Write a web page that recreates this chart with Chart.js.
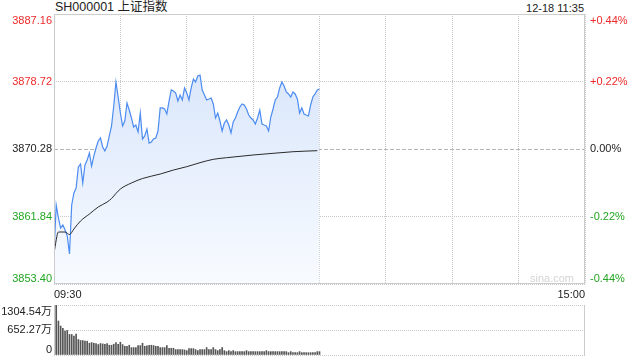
<!DOCTYPE html>
<html>
<head>
<meta charset="utf-8">
<script src="https://cdn.jsdelivr.net/npm/chart.js@4/dist/chart.umd.min.js"></script>
<style>
  html, body { margin: 0; padding: 0; background: #fff; }
  body { width: 640px; height: 360px; position: relative; overflow: hidden;
         font-family: Arial, "Liberation Sans", "Noto Sans CJK SC", sans-serif; }
  #title { position: absolute; left: 55px; top: 0px; font-size: 12.5px; color: #222; line-height: 15px; }
  #stamp { position: absolute; right: 56px; top: 1px; font-size: 11px; color: #222; line-height: 14px; }
  #mainBox { position: absolute; left: 0; top: 0; width: 640px; height: 298px; }
  #volBox { position: absolute; left: 0; top: 298px; width: 640px; height: 62px; }
</style>
</head>
<body>
<div id="title">SH000001 上证指数</div>
<div id="stamp">12-18 11:35</div>
<div id="mainBox"><canvas id="mainChart" width="640" height="298"></canvas></div>
<div id="volBox"><canvas id="volChart" width="640" height="62"></canvas></div>

<script>
// datos (un valor por minuto, 09:30 - 11:30)
const prevClose = 3870.28;
const priceTicks = [3887.16, 3878.72, 3870.28, 3861.84, 3853.40];
const pctTicks = ['+0.44%', '+0.22%', '0.00%', '-0.22%', '-0.44%'];
const timeLabels = ['09:30', '15:00'];

const prices = [
  3857.28, 3863.28, 3861.65, 3860.40, 3860.78, 3860.15, 3859.40, 3857.15, 3863.28, 3864.78,
  3865.40, 3868.03, 3868.40, 3866.03, 3868.28, 3868.90, 3869.78, 3868.15, 3869.40, 3870.40,
  3871.28, 3871.66, 3870.53, 3870.03, 3870.66, 3871.91, 3873.16, 3875.66, 3878.66, 3876.78,
  3874.78, 3873.16, 3873.78, 3876.03, 3875.16, 3874.16, 3873.03, 3873.28, 3872.41, 3874.78,
  3871.53, 3871.91, 3872.78, 3871.03, 3871.16, 3871.53, 3871.66, 3872.53, 3875.41, 3875.41,
  3875.28, 3874.66, 3876.28, 3877.66, 3877.53, 3877.28, 3876.28, 3877.03, 3876.41, 3877.91,
  3877.28, 3876.41, 3877.91, 3879.03, 3878.66, 3879.41, 3879.53, 3877.66, 3877.03, 3876.41,
  3876.53, 3876.66, 3875.91, 3874.16, 3874.78, 3873.78, 3872.53, 3873.53, 3873.91, 3873.28,
  3872.28, 3873.66, 3874.16, 3874.91, 3875.53, 3875.91, 3875.78, 3875.28, 3874.53, 3874.16,
  3873.91, 3873.41, 3874.16, 3875.16, 3873.41, 3873.28, 3873.16, 3872.53, 3874.28, 3875.28,
  3876.41, 3876.78, 3877.91, 3878.66, 3878.16, 3877.41, 3877.16, 3876.78, 3877.41, 3877.16,
  3876.53, 3874.78, 3875.41, 3874.66, 3874.53, 3874.41, 3875.78, 3876.78, 3877.16, 3877.66,
  3877.78
];

const avgMinutes = [0, 2, 5, 7, 9, 12, 16, 20, 24, 26, 28, 30, 35, 40, 48, 54, 60, 66, 72, 78, 90, 99, 108, 119];
const avgPrices = [
  3857.28, 3859.90, 3859.90, 3859.59, 3860.28, 3861.28, 3862.15, 3863.03, 3863.65, 3864.09,
  3864.72, 3865.28, 3866.03, 3866.59, 3867.15, 3867.65, 3868.07, 3868.57, 3868.99, 3869.19,
  3869.53, 3869.74, 3869.94, 3870.07
];

// volumen en 万
const volTicks = [1304.54, 652.27, 0];
const volTickLabels = ['1304.54万', '652.27万', '0'];
const volumes = [
  466, 1300, 887, 755, 694, 624, 641, 536, 536, 492,
  545, 404, 378, 378, 360, 360, 307, 325, 307, 299,
  272, 299, 290, 281, 299, 255, 255, 281, 325, 281,
  334, 272, 228, 228, 255, 193, 193, 193, 246, 246,
  307, 228, 237, 255, 255, 246, 228, 228, 193, 193,
  193, 246, 176, 176, 176, 141, 141, 141, 141, 132,
  114, 167, 167, 167, 141, 114, 141, 141, 141, 193,
  141, 141, 193, 141, 114, 141, 193, 114, 88, 114,
  88, 114, 88, 88, 88, 88, 88, 114, 88, 88,
  88, 88, 88, 88, 88, 88, 114, 88, 88, 88,
  88, 88, 88, 88, 88, 88, 61, 88, 61, 61,
  61, 88, 61, 61, 61, 61, 61, 61, 61, 88,
  88
];

const RED = '#ee2a2a';
const GREEN = '#22a522';
const GRID = '#c8c8c8';
const FONT = 'Arial, "Liberation Sans", "Noto Sans CJK SC", sans-serif';

function colorFor(v) {
  if (v > prevClose + 0.001) return RED;
  if (v < prevClose - 0.001) return GREEN;
  return '#222';
}

// marco, linea 0.00%, etiquetas de los ejes
const framePlugin = {
  id: 'frame',
  beforeDatasetsDraw(chart, args, opts) {
    const a = chart.chartArea, c = chart.ctx;
    if (opts.zeroLine) {
      const y = Math.round(chart.scales.y.getPixelForValue(prevClose)) + 0.5;
      c.save();
      c.strokeStyle = '#b5b5b5';
      c.lineWidth = 1;
      c.setLineDash([4, 2]);
      c.beginPath();
      c.moveTo(a.left, y);
      c.lineTo(a.right, y);
      c.stroke();
      c.restore();
    }
  },
  afterDraw(chart, args, opts) {
    const a = chart.chartArea, c = chart.ctx;
    c.save();
    c.strokeStyle = '#cccccc';
    c.lineWidth = 1;
    c.beginPath();
    if (opts.full) {
      c.strokeRect(Math.round(a.left) + 0.5, Math.round(a.top) + 0.5,
                   Math.round(a.right - a.left) - 1, Math.round(a.bottom - a.top) - 1);
    } else {
      c.moveTo(Math.round(a.left) + 0.5, a.top);
      c.lineTo(Math.round(a.left) + 0.5, a.bottom);
      c.moveTo(Math.round(a.right) - 0.5, a.top);
      c.lineTo(Math.round(a.right) - 0.5, a.bottom);
      c.stroke();
    }
    // etiquetas
    const ys = chart.scales.y;
    c.font = '11px ' + FONT;
    opts.values.forEach((v, i) => {
      let y = ys.getPixelForValue(v);
      let base = 'middle';
      if (i === 0) { y = a.top + 1; base = 'top'; }
      if (i === opts.values.length - 1) { y = a.bottom; base = 'bottom'; }
      c.textBaseline = base;
      c.textAlign = 'right';
      c.fillStyle = opts.colors ? colorFor(v) : '#222';
      c.fillText(opts.left[i], a.left - 2, y);
      if (opts.right) {
        c.textAlign = 'left';
        c.fillText(opts.right[i], a.right + 5, y);
      }
    });
    if (opts.mark) {
      c.font = '11px ' + FONT;
      c.fillStyle = '#d4d4d4';
      c.textAlign = 'right';
      c.textBaseline = 'bottom';
      c.fillText(opts.mark, a.right - 11, a.bottom);
    }
    c.restore();
  }
};

const pricePoints = prices.map((p, i) => ({ x: i, y: p }));
const avgPoints = avgMinutes.map((m, i) => ({ x: m, y: avgPrices[i] }));

new Chart(document.getElementById('mainChart'), {
  type: 'line',
  data: {
    datasets: [
      {
        data: avgPoints,
        borderColor: '#2b2b2b',
        borderWidth: 1,
        pointRadius: 0,
        cubicInterpolationMode: 'monotone',
        fill: false
      },
      {
        data: pricePoints,
        borderColor: '#4c8cf0',
        borderWidth: 1.2,
        pointRadius: 0,
        tension: 0,
        fill: 'start',
        backgroundColor(ctx) {
          const a = ctx.chart.chartArea;
          if (!a) return 'rgba(220,232,251,0.8)';
          const g = ctx.chart.ctx.createLinearGradient(0, a.top, 0, a.bottom);
          g.addColorStop(0, 'rgba(210,225,250,1)');
          g.addColorStop(1, 'rgba(248,251,255,1)');
          return g;
        }
      }
    ]
  },
  options: {
    responsive: false,
    animation: false,
    layout: { padding: { top: 14, right: 55, left: 0, bottom: 0 } },
    plugins: {
      legend: { display: false },
      tooltip: { enabled: false },
      frame: {
        full: true, zeroLine: true, colors: true, mark: 'sina.com',
        values: priceTicks, left: priceTicks.map(v => v.toFixed(2)), right: pctTicks
      }
    },
    scales: {
      x: {
        type: 'linear', min: 0, max: 240,
        afterBuildTicks(s) { s.ticks = [0, 30, 60, 90, 120, 150, 180, 210, 240].map(v => ({ value: v })); },
        afterFit(s) { s.height = 14; },
        ticks: {
          autoSkip: false, maxRotation: 0, align: 'inner', padding: 4,
          color: '#222', font: { size: 11, family: FONT },
          callback(v) { return v === 0 ? timeLabels[0] : (v === 240 ? timeLabels[1] : ''); }
        },
        grid: { color: GRID, drawTicks: false },
        border: { display: false, dash: [1, 1] }
      },
      y: {
        min: priceTicks[priceTicks.length - 1], max: priceTicks[0],
        afterBuildTicks(s) { s.ticks = priceTicks.map(v => ({ value: v })); },
        afterFit(s) { s.width = 54; },
        ticks: { display: false },
        grid: {
          drawTicks: false,
          color(ctx) { return ctx.tick && Math.abs(ctx.tick.value - prevClose) < 0.001 ? 'rgba(0,0,0,0)' : GRID; }
        },
        border: { display: false, dash: [1, 1] }
      }
    }
  },
  plugins: [framePlugin]
});

new Chart(document.getElementById('volChart'), {
  type: 'bar',
  data: {
    datasets: [{
      data: volumes.map((v, i) => ({ x: i, y: v })),
      backgroundColor: '#555',
      barThickness: 1
    }]
  },
  options: {
    responsive: false,
    animation: false,
    layout: { padding: { top: 7, right: 55, left: 0, bottom: 5 } },
    plugins: {
      legend: { display: false },
      tooltip: { enabled: false },
      frame: { full: false, values: volTicks, left: volTickLabels }
    },
    scales: {
      x: {
        type: 'linear', min: 0, max: 240, offset: false,
        display: false
      },
      y: {
        min: 0, max: volTicks[0],
        afterBuildTicks(s) { s.ticks = volTicks.map(v => ({ value: v })); },
        afterFit(s) { s.width = 54; },
        ticks: { display: false },
        grid: { color: GRID, drawTicks: false },
        border: { display: false, dash: [1, 1] }
      }
    }
  },
  plugins: [framePlugin]
});
</script>
</body>
</html>
